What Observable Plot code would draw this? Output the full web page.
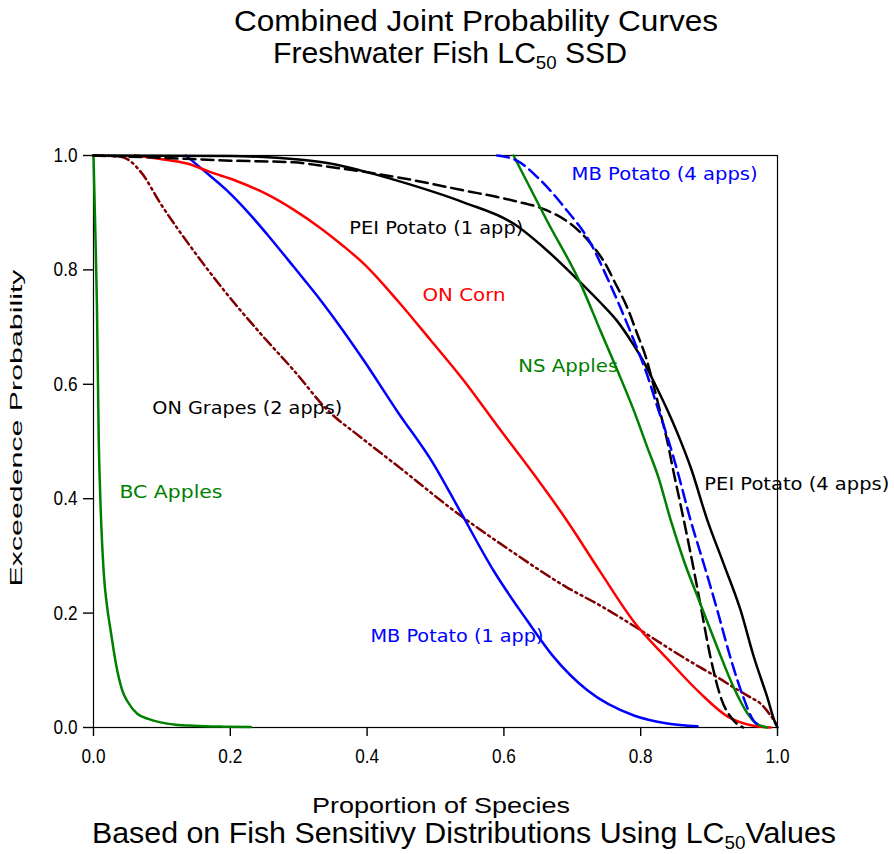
<!DOCTYPE html>
<html><head><meta charset="utf-8">
<script src="https://cdn.jsdelivr.net/npm/d3@7"></script>
<script src="https://cdn.jsdelivr.net/npm/@observablehq/plot@0.6"></script>
<style>body{margin:0;background:#fff}</style>
</head><body><div id="chart"></div>
<script>
// Each series: [proportion of species, exceedence probability]
const bcApples = [[0,1],[0.002,0.9],[0.005,0.74],[0.0077,0.5],[0.010,0.40],[0.015,0.27],[0.020,0.21],[0.025,0.17],[0.033,0.11],[0.042,0.065],[0.05,0.045],[0.064,0.024],[0.08,0.015],[0.098,0.009],[0.12,0.005],[0.146,0.003],[0.19,0.0015],[0.23,0.001]];
const onGrapes = [[0,1],[0.04,0.998],[0.07,0.97],[0.098,0.916],[0.146,0.834],[0.195,0.758],[0.244,0.689],[0.293,0.624],[0.342,0.555],[0.390,0.508],[0.449,0.453],[0.527,0.379],[0.610,0.309],[0.692,0.245],[0.741,0.213],[0.800,0.170],[0.839,0.140],[0.887,0.105],[0.912,0.088],[0.936,0.070],[0.960,0.053],[0.975,0.042],[0.999,0.005]];
const mbPotato1 = [[0.135,1],[0.161,0.974],[0.195,0.939],[0.225,0.902],[0.254,0.862],[0.293,0.805],[0.332,0.747],[0.366,0.692],[0.395,0.642],[0.444,0.553],[0.497,0.461],[0.537,0.376],[0.585,0.274],[0.634,0.187],[0.673,0.123],[0.722,0.065],[0.790,0.021],[0.839,0.007],[0.883,0.002]];
const onCorn = [[0.06,1],[0.098,0.994],[0.137,0.986],[0.171,0.971],[0.210,0.955],[0.254,0.932],[0.293,0.905],[0.332,0.873],[0.366,0.841],[0.395,0.811],[0.444,0.747],[0.493,0.677],[0.541,0.607],[0.590,0.528],[0.643,0.444],[0.692,0.362],[0.741,0.272],[0.790,0.185],[0.839,0.120],[0.887,0.060],[0.926,0.020],[0.965,0.003],[0.99,0.0]];
const peiPotato4 = [[0,1],[0.2,0.999],[0.3,0.993],[0.346,0.986],[0.390,0.974],[0.444,0.956],[0.541,0.918],[0.614,0.881],[0.663,0.834],[0.712,0.778],[0.741,0.743],[0.766,0.710],[0.790,0.668],[0.804,0.640],[0.819,0.605],[0.839,0.555],[0.858,0.502],[0.873,0.455],[0.897,0.364],[0.921,0.287],[0.946,0.205],[0.965,0.125],[0.985,0.053],[0.997,0.007],[1.0,0.0]];
const peiPotato1 = [[0,1],[0.1,0.996],[0.2,0.991],[0.293,0.988],[0.346,0.980],[0.444,0.962],[0.541,0.939],[0.614,0.921],[0.663,0.904],[0.697,0.881],[0.727,0.846],[0.751,0.805],[0.761,0.781],[0.780,0.735],[0.795,0.688],[0.809,0.642],[0.819,0.597],[0.829,0.549],[0.839,0.500],[0.848,0.447],[0.858,0.391],[0.873,0.304],[0.887,0.217],[0.902,0.123],[0.917,0.053],[0.936,0.012],[0.950,0.0]];
const mbPotato4 = [[0.590,1.0],[0.619,0.991],[0.649,0.962],[0.688,0.910],[0.727,0.846],[0.753,0.781],[0.770,0.735],[0.790,0.677],[0.809,0.618],[0.824,0.562],[0.839,0.508],[0.854,0.447],[0.873,0.362],[0.892,0.287],[0.912,0.205],[0.931,0.123],[0.950,0.053],[0.965,0.012],[0.975,0.003]];
const nsApples = [[0.614,1.0],[0.663,0.886],[0.712,0.776],[0.741,0.694],[0.766,0.624],[0.790,0.554],[0.809,0.492],[0.826,0.437],[0.844,0.362],[0.863,0.292],[0.887,0.217],[0.912,0.140],[0.936,0.070],[0.956,0.025],[0.968,0.008],[0.985,0.0]];

const labelNames = ["PEI Potato (1 app)","MB Potato (4 apps)","ON Corn","NS Apples","ON Grapes (2 apps)","BC Apples","PEI Potato (4 apps)","MB Potato (1 app)"];
const labelX = [0.374,0.699,0.481,0.621,0.086,0.038,0.893,0.405];
const labelY = [0.872,0.967,0.755,0.631,0.558,0.411,0.425,0.159];
const labelColors = ["black","blue","red","#008000","black","#008000","black","blue"];
const labelWidths = [174,186,83,100,190,103,185,173];

const tickValues = [0,0.2,0.4,0.6,0.8,1.0];

const series = [
  {data: bcApples, stroke: "#008000", dash: null},
  {data: onGrapes, stroke: "#800000", dash: "10,4,2,4,2,4"},
  {data: mbPotato1, stroke: "blue", dash: null},
  {data: onCorn, stroke: "red", dash: null},
  {data: peiPotato4, stroke: "black", dash: null},
  {data: peiPotato1, stroke: "black", dash: "12,6"},
  {data: nsApples, stroke: "#008000", dash: null},
  {data: mbPotato4, stroke: "blue", dash: "12,6"}
];
const labels = labelNames.map((t,i)=>({t, x:labelX[i], y:labelY[i], c:labelColors[i]}));

const sans = "'Liberation Sans',Arial,sans-serif";

const chart = Plot.plot({
  width: 894, height: 854,
  marginTop: 155, marginLeft: 93, marginRight: 117, marginBottom: 127,
  style: {fontFamily: sans, fontSize: "20px", background: "white", color: "black"},
  x: {domain: [0,1]},
  y: {domain: [0,1]},
  marks: [
    Plot.frame({stroke: "black", strokeWidth: 1.2}),
    Plot.axisX({ticks: tickValues, tickFormat: d3.format(".1f"), tickSize: 9, tickPadding: 12, label: null, fontSize: 20, strokeWidth: 1.4}),
    Plot.axisY({ticks: tickValues, tickFormat: d3.format(".1f"), tickSize: 10, tickPadding: 6, label: null, fontSize: 20, strokeWidth: 1.4}),
    ...series.map(s => Plot.line(s.data, {x: d=>d[0], y: d=>d[1], stroke: s.stroke, strokeWidth: 2.5, strokeDasharray: s.dash, curve: "monotone-x"})),
    Plot.text(labels, {x: "x", y: "y", text: "t", fill: "c", textAnchor: "start", lineAnchor: "middle", fontSize: 18, fontFamily: "'DejaVu Sans',sans-serif"})
  ]
});
document.getElementById("chart").appendChild(chart);

const svg = d3.select(chart);
// narrow tick labels (Arial Narrow look)
svg.selectAll('g[aria-label="x-axis tick label"] text, g[aria-label="y-axis tick label"] text')
  .each(function(){ this.style.fontSize = "20px"; const w = this.getComputedTextLength(); this.setAttribute("textLength", (w*0.86).toFixed(1)); this.setAttribute("lengthAdjust","spacingAndGlyphs"); });
// curve label widths
svg.selectAll("text").each(function(){
  const idx = labelNames.indexOf(this.textContent);
  if (idx >= 0) { this.setAttribute("textLength", labelWidths[idx]); this.setAttribute("lengthAdjust","spacingAndGlyphs"); }
});

function addText(x, y, parts, opts) {
  const t = svg.append("text").attr("x", x).attr("y", y)
    .attr("font-family", opts.family || sans).attr("font-size", opts.size)
    .attr("text-anchor", opts.anchor || "start").attr("fill", "black");
  if (opts.rotate) t.attr("transform", `rotate(-90 ${x} ${y})`);
  parts.forEach(p => {
    const s = t.append("tspan").text(p.t);
    if (p.sub) s.attr("font-size", opts.size*0.62).attr("dy", opts.size*0.2);
    if (p.after) s.attr("dy", -opts.size*0.2);
  });
  if (opts.length) t.attr("textLength", opts.length).attr("lengthAdjust", "spacingAndGlyphs");
  return t;
}
addText(234, 31, [{t:"Combined Joint Probability Curves"}], {size: 29, length: 484});
addText(273, 63, [{t:"Freshwater Fish LC"},{t:"50",sub:true},{t:" SSD",after:true}], {size: 29, length: 354});
addText(312, 813, [{t:"Proportion of Species"}], {size: 22, length: 258});
addText(92, 843, [{t:"Based on Fish Sensitivy Distributions Using LC"},{t:"50",sub:true},{t:"Values",after:true}], {size: 29, length: 744});
addText(22, 428, [{t:"Exceedence Probability"}], {size: 17, anchor:"middle", rotate:true, length: 317});
</script></body></html>
